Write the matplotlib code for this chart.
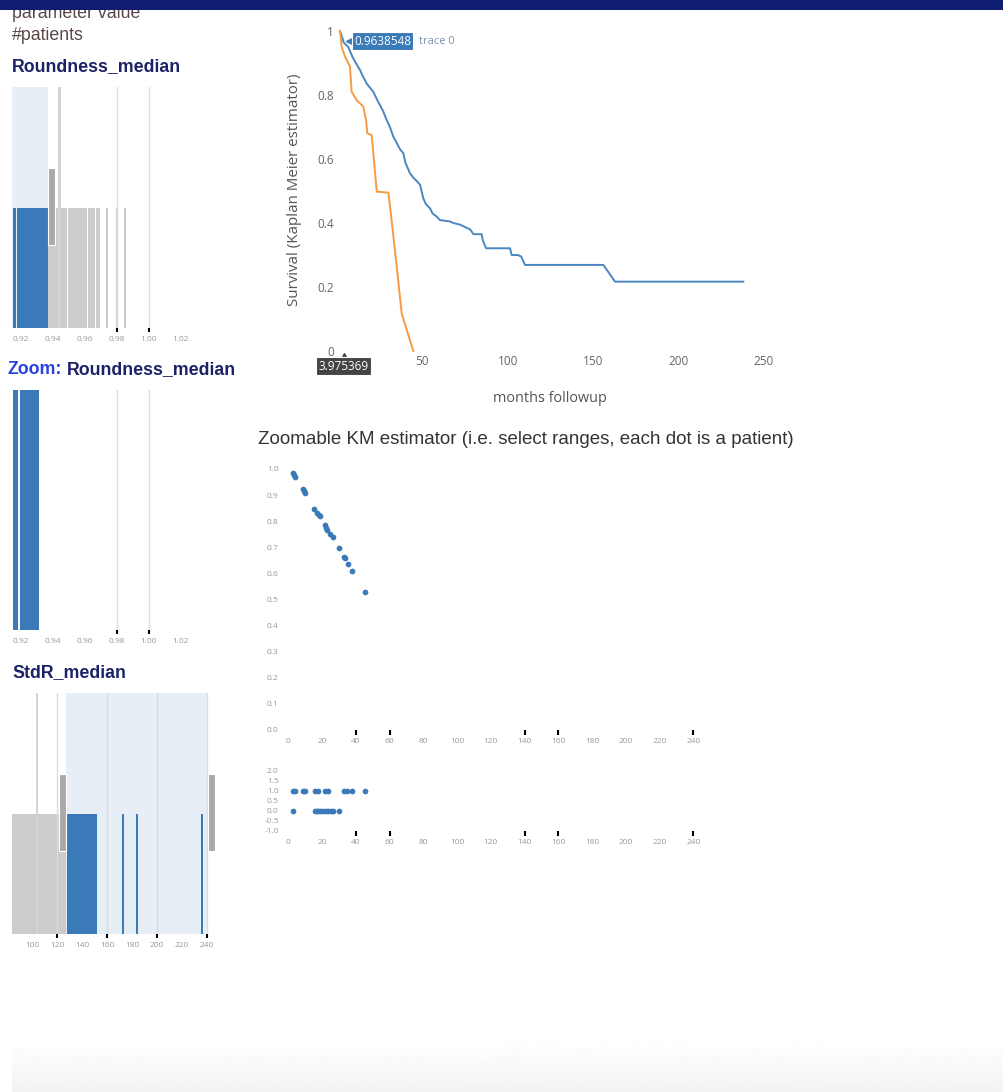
import numpy as np
import matplotlib.pyplot as plt
from matplotlib.patches import Rectangle

W, H = 1004, 1092
BLUE = "#3a7ab8"
GRAY = "#cccccc"
TALL = "#d4d4d4"
SEL_BG = "#e8eef5"
NAVY = "#1c2266"
PLOTLY_FONT = ["Open Sans", "DejaVu Sans"]

plt.rcParams["font.family"] = ["Liberation Sans", "DejaVu Sans"]

# --- histogram bins (left edge, right edge, #patients) ---
round_lo = [0.9150, 0.9176, 0.9195, 0.9295, 0.9369, 0.9491, 0.9553, 0.9616, 0.9666,
            0.9431, 0.9733, 0.9795, 0.9846]
round_hi = [0.9172, 0.9191, 0.9291, 0.9369, 0.9488, 0.9550, 0.9613, 0.9663, 0.9694,
            0.9450, 0.9742, 0.9805, 0.9856]
round_n = [1, 1, 1, 1, 1, 1, 1, 1, 1, 2, 1, 1, 1]
round_sel = (0.9144, 0.9369)

zoom_lo = [0.9150, 0.9191]
zoom_hi = [0.9181, 0.9313]
zoom_n = [1, 1]

stdr_lo = [84.0, 102.6, 106.6, 118.6, 103.0, 128.0, 137.0, 145.0, 148.2, 172.0, 183.2, 235.2]
stdr_hi = [102.2, 106.2, 118.2, 127.0, 104.6, 136.6, 144.6, 147.8, 152.0, 173.6, 184.8, 236.8]
stdr_n = [1, 1, 1, 1, 2, 1, 1, 1, 1, 1, 1, 1]
stdr_sel = (127.2, 240.8)

# --- Kaplan-Meier curves ---
km0_t = [1.8, 3.975369, 6.6, 9.0, 11.0, 13.5, 15.0, 17.4, 19.0, 21.3, 24.0, 27.0, 29.1, 31.0,
         33.0, 35.0, 37.0, 38.9, 40.0, 42.8, 45.0, 47.0, 48.7, 50.6, 52.0, 54.5, 56.0, 58.4,
         60.4, 66.0, 68.2, 72.0, 74.0, 78.0, 80.0, 84.8, 85.5, 87.4, 101.4, 102.4, 106.0,
         108.0, 110.2, 156.1, 163.0, 238.2]
km0_s = [1.0, 0.9638548, 0.95, 0.92, 0.90, 0.878, 0.86, 0.836, 0.825, 0.81, 0.78, 0.75, 0.722,
         0.70, 0.67, 0.65, 0.63, 0.618, 0.59, 0.555, 0.54, 0.53, 0.519, 0.477, 0.46, 0.446,
         0.43, 0.42, 0.409, 0.405, 0.40, 0.395, 0.39, 0.38, 0.365, 0.365, 0.345, 0.321,
         0.321, 0.30, 0.30, 0.295, 0.269, 0.269, 0.2167, 0.2167]
km1_t = [1.8, 2.7, 4.7, 7.6, 8.6, 11.5, 15.4, 17.0, 17.8, 20.3, 21.3, 23.3, 30.1, 32.0, 35.0,
         37.9, 44.7]
km1_s = [1.0, 0.951, 0.92, 0.889, 0.81, 0.784, 0.764, 0.722, 0.680, 0.675, 0.618, 0.498,
         0.495, 0.409, 0.264, 0.118, 0.0]
hover_x = 3.975369
hover_y = 0.9638548

# --- zoomable KM: one dot per patient ---
pt_time = [2.6, 3.3, 4.0, 8.5, 9.2, 9.9, 15.2, 16.8, 18.4, 19.0, 21.7, 22.4, 23.1, 24.7,
           26.3, 30.2, 33.0, 33.6, 35.6, 37.7, 45.5]
pt_surv = [0.983, 0.977, 0.971, 0.922, 0.914, 0.907, 0.846, 0.833, 0.824, 0.82, 0.785,
           0.775, 0.766, 0.751, 0.741, 0.696, 0.662, 0.658, 0.636, 0.610, 0.530]
ev_time = [2.6, 4.0, 8.5, 9.9, 15.8, 17.8, 21.7, 23.7, 33.0, 35.0, 37.5, 45.5,
           2.6, 15.8, 16.8, 17.8, 18.8, 20.7, 22.3, 23.7, 25.1, 26.3, 30.2]
ev_flag = [1, 1, 1, 1, 1, 1, 1, 1, 1, 1, 1, 1,
           0, 0, 0, 0, 0, 0, 0, 0, 0, 0, 0]

fig = plt.figure(figsize=(W / 100, H / 100), dpi=100)


def px_axes(x0, y0, x1, y1, **kw):
    return fig.add_axes([x0 / W, 1 - y1 / H, (x1 - x0) / W, (y1 - y0) / H], **kw)


def ftext(x, y, s, **kw):
    return fig.text(x / W, 1 - y / H, s, **kw)


def bare(ax):
    for sp in ax.spines.values():
        sp.set_visible(False)
    ax.set_facecolor("none")


def small_ticks(ax):
    for lab in ax.get_xticklabels() + ax.get_yticklabels():
        lab.set_family(PLOTLY_FONT)


def hist_panel(box, lo, hi, n, xlim, ticks, fmt, marks, sel=None, shade=True, handles=()):
    ax = px_axes(*box)
    bare(ax)
    lo, hi, n = np.array(lo), np.array(hi), np.array(n)
    if sel is not None:
        picked = (lo >= sel[0] - 1e-9) & (hi <= sel[1] + 1e-9)
        if shade:
            ax.axvspan(sel[0], sel[1], color=SEL_BG, lw=0, zorder=0)
    else:
        picked = np.ones(len(lo), bool)
    cols = [BLUE if p else (TALL if c > 1 else GRAY) for p, c in zip(picked, n)]
    ax.bar(lo, n, width=hi - lo, align="edge", color=cols, linewidth=0, zorder=2)
    for g in marks:
        ax.axvline(g, color="#dcdcdc", lw=1.0, zorder=3)
    for hx, hw in handles:
        ax.add_patch(Rectangle((hx, 0.69), hw, 0.64, fc="#aaaaaa", ec="white", lw=0.8, zorder=4))
    ax.set_xlim(*xlim)
    ax.set_ylim(0, 2)
    ax.set_yticks([])
    ax.set_xticks(ticks)
    ax.set_xticklabels([fmt.format(t) for t in ticks])
    ax.xaxis.remove_overlapping_locs = False
    ax.set_xticks(marks, minor=True)
    ax.tick_params(axis="x", which="major", length=0, pad=5.5, labelsize=6, labelcolor="#999999")
    ax.tick_params(axis="x", which="minor", length=3, width=1.5, color="black")
    small_ticks(ax)
    return ax


# header band
fig.add_artist(Rectangle((0, 1 - 10 / H), 1, 10 / H, transform=fig.transFigure,
                         fc="#0e1d70", ec="none", zorder=10))

ftext(12, 13, "parameter value", fontsize=12.8, color="#5a4848", va="center")
ftext(12, 35, "#patients", fontsize=12.8, color="#5a4848", va="center")
ftext(12, 67, "Roundness_median", fontsize=12.8, weight="bold", color=NAVY, va="center")
ftext(62, 370, "Zoom:", fontsize=12.8, weight="bold", color="#2a40e0", va="center", ha="right")
ftext(67, 370, "Roundness_median", fontsize=12.8, weight="bold", color=NAVY, va="center")
ftext(12, 673, "StdR_median", fontsize=12.8, weight="bold", color=NAVY, va="center")

r_ticks = [0.92, 0.94, 0.96, 0.98, 1.00, 1.02]
r_xlim = (0.9144, 0.9144 + 204 / 1600)
hist_panel((12, 87, 216, 328), round_lo, round_hi, round_n, r_xlim, r_ticks, "{:.2f}",
           [0.98, 1.00], sel=round_sel, handles=[(0.9369, 0.0044)])
hist_panel((12, 390, 216, 630), zoom_lo, zoom_hi, [2 * v for v in zoom_n], r_xlim, r_ticks,
           "{:.2f}", [0.98, 1.00])
hist_panel((12, 693, 216, 934), stdr_lo, stdr_hi, stdr_n, (84, 84 + 204 / 1.25),
           list(range(100, 241, 20)), "{:d}", [120, 160, 200, 240], sel=stdr_sel,
           handles=[(121.6, 5.6), (240.8, 5.6)])

# Kaplan-Meier plot
kx0, kscale = 337, 1.706
kxlim = (-0.5, 256)
kylim = (-0.01, 1.02)
km = px_axes(kx0 + kxlim[0] * kscale, 351 - kylim[1] * 320,
             kx0 + kxlim[1] * kscale, 351 - kylim[0] * 320)
bare(km)
km.plot(km0_t, km0_s, color="#4a86c0", lw=1.4)
km.plot(km1_t, km1_s, color="#f79a40", lw=1.4)
km.set_xlim(*kxlim)
km.set_ylim(*kylim)
km.set_xticks([50, 100, 150, 200, 250])
km.set_yticks([0, 0.2, 0.4, 0.6, 0.8, 1.0])
km.set_yticklabels(["0", "0.2", "0.4", "0.6", "0.8", "1"])
km.tick_params(length=0, labelsize=8.5, labelcolor="#666666", pad=1.5)
km.tick_params(axis="x", pad=0.5)
small_ticks(km)
km.plot(hover_x + 3.3, hover_y + 0.004, marker="<", ms=5, color=BLUE, clip_on=False, zorder=5)
km.text(hover_x + 6.0, hover_y + 0.004, f"{hover_y:.7f}", color="white", fontsize=8.5,
        va="center", ha="left", zorder=6, family=PLOTLY_FONT,
        bbox=dict(boxstyle="square,pad=0.2", fc=BLUE, ec="white", lw=0.8))
km.text(hover_x + 44.0, hover_y + 0.004, "trace 0", color="#8090b4", fontsize=8,
        va="center", ha="left", zorder=6, family=PLOTLY_FONT)
km.plot(hover_x, -0.016, marker="^", ms=5, color="#444444", clip_on=False, zorder=5)
km.annotate(f"{hover_x:.6f}", xy=(hover_x, kylim[0]), xytext=(0, -12), textcoords="offset pixels",
            color="white", fontsize=8.5, ha="center", va="center", annotation_clip=False,
            zorder=6, family=PLOTLY_FONT,
            bbox=dict(boxstyle="square,pad=0.2", fc="#444444", ec="white", lw=0.8))
ftext(295, 190, "Survival (Kaplan Meier estimator)", rotation=90, fontsize=10.9,
      color="#555555", ha="center", va="center", family=PLOTLY_FONT)
ftext(550, 398, "months followup", fontsize=10.4, color="#555555", ha="center", va="center",
      family=PLOTLY_FONT)

# zoomable KM estimator
ftext(258, 440, "Zoomable KM estimator (i.e. select ranges, each dot is a patient)",
      fontsize=13.5, color="#333333", va="center")
sx0, sscale = 288.3, 1.6875
sxlim = (-4, 250)
s_ticks = list(range(0, 241, 20))
s_marks = [40, 60, 140, 160, 240]


def scatter_axes(y0, y1, ylim):
    ax = px_axes(sx0 + sxlim[0] * sscale, y0, sx0 + sxlim[1] * sscale, y1)
    bare(ax)
    ax.set_xlim(*sxlim)
    ax.set_ylim(*ylim)
    ax.set_xticks(s_ticks)
    ax.xaxis.remove_overlapping_locs = False
    ax.set_xticks(s_marks, minor=True)
    ax.tick_params(axis="x", which="major", length=0, pad=6)
    ax.tick_params(axis="x", which="minor", length=3.5, width=1.5, color="black")
    ax.tick_params(axis="y", length=0, pad=2)
    ax.tick_params(labelsize=6, labelcolor="#999999")
    return ax


sc1 = scatter_axes(469 - 0.02 * 261, 730, (0, 1.02))
sc1.scatter(pt_time, pt_surv, s=17, color=BLUE, linewidths=0)
sc1.set_yticks(np.round(np.arange(0, 1.01, 0.1), 1))
sc1.set_yticklabels([f"{v:.1f}" for v in np.arange(0, 1.01, 0.1)])
small_ticks(sc1)

sc2 = scatter_axes(770.7, 830.7, (-1, 2))
sc2.scatter(ev_time, ev_flag, s=17, color=BLUE, linewidths=0)
sc2.set_yticks(np.arange(-1, 2.01, 0.5))
sc2.set_yticklabels([f"{v:.1f}" for v in np.arange(-1, 2.01, 0.5)])
small_ticks(sc2)

# faint page footer
foot = px_axes(12, 1040, W, H)
foot.imshow(np.linspace(1.0, 0.95, 50)[:, None], cmap="gray", vmin=0, vmax=1,
            aspect="auto", extent=(0, 1, 0, 1))
foot.axis("off")

fig.savefig("out.png", dpi=100)
